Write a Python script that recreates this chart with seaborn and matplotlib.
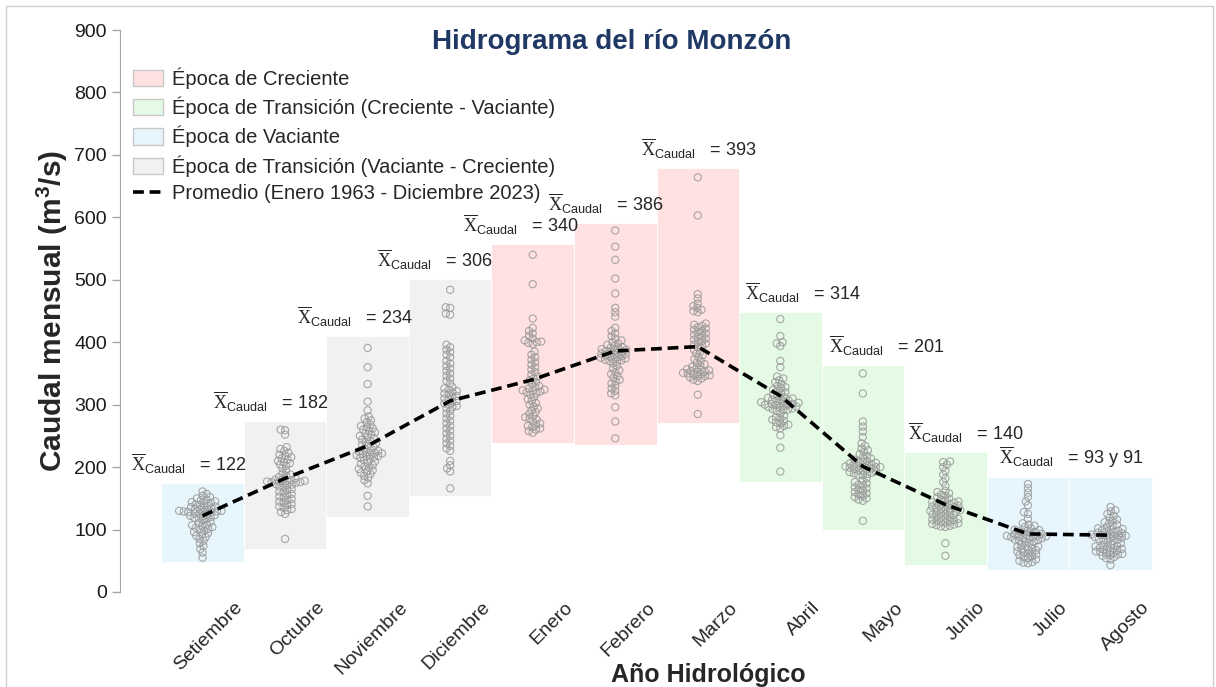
import numpy as np
import pandas as pd
import matplotlib
matplotlib.use('Agg')
import matplotlib.pyplot as plt
import seaborn as sns
from matplotlib.patches import Patch, Rectangle
from matplotlib.lines import Line2D
from matplotlib.transforms import ScaledTranslation

sns.set_style('white')
plt.rcParams['font.family'] = ['Liberation Sans', 'DejaVu Sans']
plt.rcParams['mathtext.fontset'] = 'custom'
plt.rcParams['mathtext.rm'] = 'Liberation Serif'
plt.rcParams['mathtext.sf'] = 'Liberation Sans'


"""Datos (caudales mensuales leidos del grafico, m3/s)"""

meses = ['Setiembre', 'Octubre', 'Noviembre', 'Diciembre', 'Enero', 'Febrero',
         'Marzo', 'Abril', 'Mayo', 'Junio', 'Julio', 'Agosto']

q_set = [161, 157, 154, 152, 150, 148, 147, 145, 144, 143, 142, 140, 139, 138, 137, 136,
         135, 134, 133, 132, 131, 130, 129, 128, 127, 126, 125, 124, 123, 122, 121, 120,
         119, 118, 117, 130, 114, 129, 112, 128, 110, 108, 107, 106, 104, 103, 101, 100,
         98, 96, 94, 92, 90, 88, 85, 82, 78, 74, 69, 63, 55]
q_oct = [260, 259, 252, 232, 229, 226, 223, 220, 218, 216, 214, 212, 210, 208, 206, 204,
         202, 178, 198, 177, 194, 176, 190, 188, 186, 184, 182, 181, 180, 179, 178, 177,
         176, 175, 174, 173, 172, 171, 169, 167, 165, 163, 161, 159, 157, 155, 153, 151,
         149, 147, 145, 143, 141, 139, 137, 135, 133, 131, 128, 125, 85]
q_nov = [391, 360, 333, 305, 291, 281, 278, 275, 272, 268, 266, 264, 262, 260, 258, 256,
         254, 252, 250, 248, 246, 244, 242, 240, 238, 236, 234, 232, 230, 227, 226, 225,
         224, 223, 222, 221, 220, 219, 218, 217, 216, 215, 213, 211, 209, 207, 205, 203,
         201, 199, 197, 195, 193, 191, 189, 186, 183, 179, 174, 154, 137]
q_dic = [484, 456, 455, 446, 444, 396, 392, 388, 384, 380, 376, 370, 366, 362, 358, 354,
         350, 346, 342, 338, 334, 328, 326, 324, 322, 320, 318, 316, 314, 312, 310, 308,
         306, 304, 302, 300, 298, 296, 294, 290, 286, 282, 278, 274, 270, 266, 262, 258,
         254, 250, 246, 242, 238, 234, 230, 226, 210, 203, 198, 193, 166]
q_ene = [540, 493, 438, 423, 418, 414, 410, 406, 403, 401, 400, 399, 397, 385, 380, 376,
         372, 368, 364, 360, 356, 352, 348, 345, 342, 339, 336, 333, 330, 328, 326, 324,
         323, 322, 321, 320, 318, 316, 312, 309, 306, 303, 300, 297, 294, 291, 288, 285,
         282, 280, 278, 276, 273, 270, 268, 266, 264, 262, 260, 258, 255]
q_feb = [579, 553, 532, 502, 478, 455, 448, 441, 423, 418, 414, 410, 406, 403, 400, 398,
         396, 394, 392, 391, 390, 389, 388, 387, 386, 385, 384, 383, 382, 381, 380, 379,
         378, 377, 376, 375, 374, 373, 372, 371, 370, 369, 366, 362, 358, 355, 352, 349,
         346, 343, 340, 337, 334, 330, 326, 322, 318, 315, 296, 273, 246]
q_mar = [664, 603, 477, 470, 462, 458, 455, 452, 450, 448, 430, 428, 426, 424, 422, 420,
         418, 416, 414, 412, 410, 408, 406, 404, 402, 400, 398, 396, 394, 392, 388, 385,
         382, 379, 376, 373, 370, 367, 365, 363, 361, 359, 357, 356, 355, 354, 353, 352,
         351, 350, 349, 348, 347, 346, 345, 344, 342, 340, 338, 316, 285]
q_abr = [437, 410, 400, 398, 394, 370, 360, 345, 342, 339, 336, 333, 330, 328, 326, 324,
         322, 320, 318, 316, 314, 312, 311, 310, 309, 308, 307, 306, 305, 304, 303, 302,
         301, 300, 299, 298, 297, 296, 295, 294, 293, 292, 291, 290, 300, 286, 301, 282,
         280, 278, 276, 274, 272, 270, 268, 266, 264, 262, 251, 231, 193]
q_may = [350, 318, 273, 265, 257, 248, 238, 234, 230, 227, 224, 221, 218, 216, 214, 212,
         210, 209, 208, 207, 206, 205, 204, 203, 202, 201, 200, 199, 198, 197, 196, 195,
         194, 193, 192, 191, 190, 189, 188, 187, 200, 182, 201, 178, 176, 174, 172, 170,
         168, 166, 164, 162, 160, 158, 156, 154, 152, 150, 148, 146, 114]
q_jun = [209, 208, 204, 200, 194, 188, 182, 176, 170, 162, 160, 158, 156, 154, 152, 150,
         148, 146, 145, 144, 143, 142, 141, 140, 139, 138, 137, 136, 135, 134, 133, 132,
         131, 130, 129, 128, 127, 126, 125, 124, 123, 121, 120, 119, 118, 117, 116, 115,
         114, 113, 112, 111, 110, 109, 108, 107, 106, 105, 104, 78, 58]
q_jul = [173, 166, 159, 152, 145, 139, 128, 125, 117, 110, 108, 106, 104, 102, 100, 99,
         98, 97, 96, 95, 94, 93, 92, 91, 90, 89, 88, 87, 86, 85, 84, 83, 82, 81, 80, 90,
         78, 89, 76, 88, 74, 73, 72, 71, 69, 68, 67, 65, 64, 63, 61, 60, 59, 57, 56, 54,
         52, 50, 48, 47, 46]
q_ago = [136, 131, 129, 125, 122, 119, 116, 114, 112, 110, 108, 106, 104, 102, 101, 100,
         99, 98, 97, 96, 95, 94, 93, 92, 91, 90, 89, 88, 87, 86, 85, 84, 83, 82, 80, 91,
         78, 90, 76, 75, 74, 73, 72, 71, 70, 69, 68, 67, 66, 65, 64, 63, 62, 61, 60, 59,
         58, 56, 54, 52, 43]

# promedio mensual (Enero 1963 - Diciembre 2023)
promedios = [122, 182, 234, 306, 340, 386, 393, 314, 201, 140, 93, 91]

# rango de cada recuadro de epoca
rect_bajo = [48, 69, 120, 154, 239, 235, 271, 176, 99, 43, 35, 35]
rect_alto = [175, 274, 410, 501, 557, 591, 679, 448, 364, 224, 184, 184]
epoca = ['vac', 'vc', 'vc', 'vc', 'cre', 'cre', 'cre', 'cv', 'cv', 'cv', 'vac', 'vac']

etiquetas = ['122', '182', '234', '306', '340', '386', '393', '314', '201', '140', '93 y 91']
etiq_dx = [-0.87, -0.87, -0.86, -0.89, -0.85, -0.82, -0.69, -0.43, -0.41, -0.45, -0.35]

colores = {'cre': '#FFE1E1', 'cv': '#E5FAE4', 'vac': '#E7F5FC', 'vc': '#F1F1F1'}
nombres = {'cre': 'Época de Creciente',
           'cv': 'Época de Transición (Creciente - Vaciante)',
           'vac': 'Época de Vaciante',
           'vc': 'Época de Transición (Vaciante - Creciente)'}


series = [q_set, q_oct, q_nov, q_dic, q_ene, q_feb, q_mar, q_abr, q_may, q_jun, q_jul, q_ago]
df = pd.DataFrame([(m, v) for m, vals in zip(meses, series) for v in vals],
                  columns=['Mes', 'Caudal'])


"""Grafico"""

fig = plt.figure(figsize=(12.16, 6.87), dpi=100)
ax = fig.add_axes([0.0987, 0.1383, 0.8824, 0.818])

x = np.arange(len(meses))
alturas = [a - b for a, b in zip(rect_alto, rect_bajo)]
ax.bar(x, alturas, bottom=rect_bajo, width=1.0,
       color=[colores[e] for e in epoca], edgecolor='white', linewidth=0.6, zorder=0)

# swarm acomodado con marcador chico (los circulos se enciman como en el original)
sns.swarmplot(data=df, x='Mes', y='Caudal', order=meses, size=2.3, color='#9a9a9a',
              linewidth=0.8, ax=ax, zorder=2, warn_thresh=1)
ax.set_xlim(-1, 12)
ax.set_ylim(0, 900)
fig.canvas.draw()
for c in ax.collections:
    if 'draw' in c.__dict__:
        del c.draw  # fija la posicion calculada
    c.set_sizes([5.2 ** 2])
    c.set_facecolor('none')
    c.set_edgecolor((0.6, 0.6, 0.6, 0.85))

sns.lineplot(x=meses, y=promedios, sort=False, ax=ax, color='black', lw=2.6,
             linestyle=(0, (3, 1.6)), zorder=4)

# etiquetas de promedio
for i, txt in enumerate(etiquetas):
    ax.annotate(r'$\overline{\mathrm{X}}_{\mathsf{Caudal}}$' + '   = ' + txt,
                xy=(i + etiq_dx[i], rect_alto[i]), xytext=(0, 5), textcoords='offset points',
                ha='left', va='bottom', fontsize=13, zorder=5)

ax.set_xlim(-1, 12)
ax.set_ylim(0, 900)
ax.set_yticks(range(0, 901, 100))
ax.tick_params(axis='y', labelsize=14, colors='#a6a6a6', length=6, width=1,
               direction='out', left=True, labelcolor='#1a1a1a')
ax.set_xticks(x)
ax.set_xticklabels(meses, rotation=45, ha='right', rotation_mode='anchor', fontsize=14)
ax.tick_params(axis='x', length=0, pad=0)
off = ScaledTranslation(0.31, -0.07, fig.dpi_scale_trans)
for lab in ax.get_xticklabels():
    lab.set_transform(lab.get_transform() + off)

for s in ['top', 'right', 'bottom']:
    ax.spines[s].set_visible(False)
ax.spines['left'].set_color('#a6a6a6')
ax.grid(False)

ax.set_ylabel('Caudal mensual (m$^\\mathregular{3}$/s)', fontsize=21.5, fontweight='bold')
ax.yaxis.set_label_coords(-0.047, 0.5)
ax.set_xlabel('Año Hidrológico', fontsize=18, fontweight='bold')
ax.xaxis.set_label_coords(0.548, -0.148)
ax.xaxis.label.set_va('center')

fig.text(0.503, 1 - 42 / 687, 'Hidrograma del río Monzón', ha='center', va='center',
         fontsize=20, fontweight='bold', color='#1F3864')

handles = [Patch(facecolor=colores[k], edgecolor='#c8c8c8', label=nombres[k])
           for k in ['cre', 'cv', 'vac', 'vc']]
handles.append(Line2D([], [], color='black', lw=2.6, linestyle=(0, (3, 1.6)),
                      label='Promedio (Enero 1963 - Diciembre 2023)'))
ax.legend(handles=handles, loc='upper left', bbox_to_anchor=(0.012, 0.933), frameon=False,
          fontsize=14.5, handlelength=1.5, handleheight=0.85, labelspacing=0.38,
          handletextpad=0.45, borderpad=0, borderaxespad=0)

fig.patches.append(Rectangle((6 / 1216, -0.01), 1207 / 1216, 1 - 6 / 687 + 0.01,
                             transform=fig.transFigure, fill=False,
                             edgecolor='#d0d0d0', lw=1))

plt.savefig('out.png', dpi=100)
